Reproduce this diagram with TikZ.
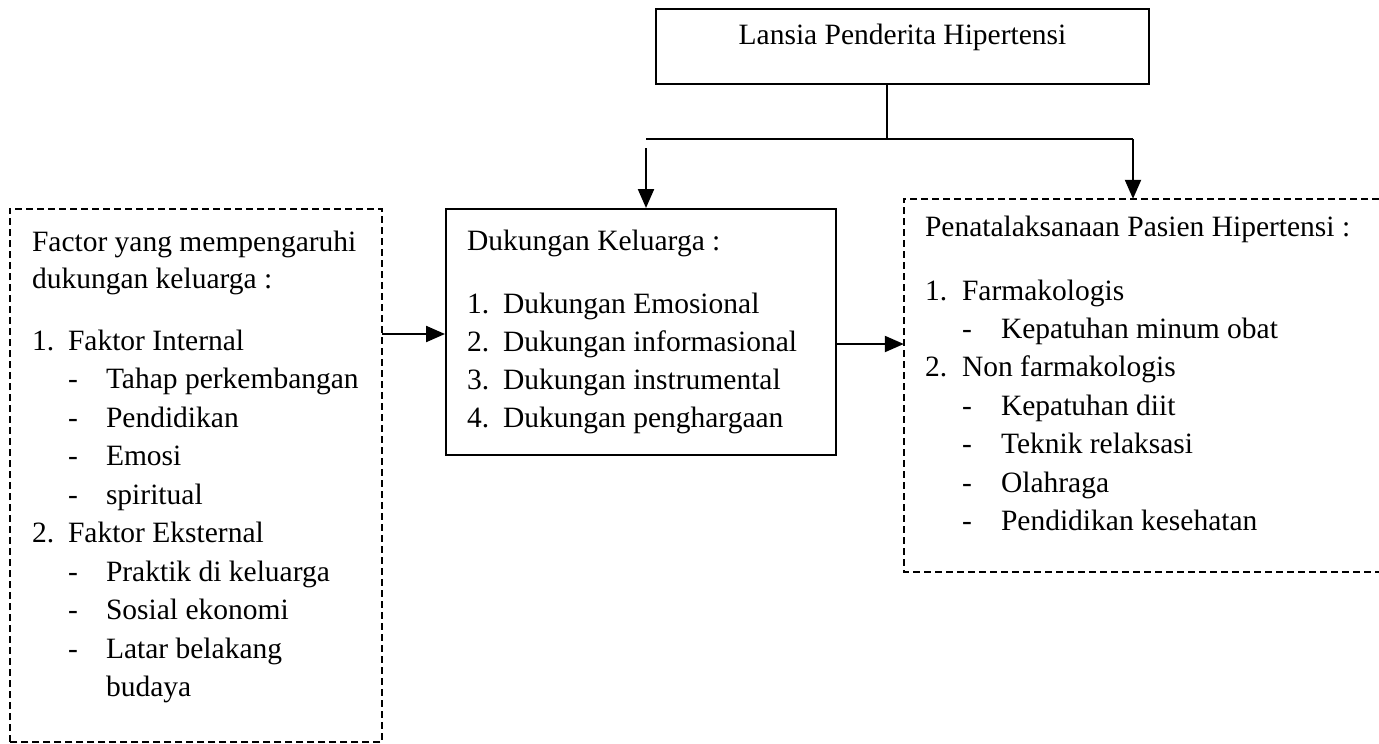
\documentclass[tikz,border=0pt]{standalone}
\usepackage{fontspec}
\setmainfont{Liberation Serif}
\usetikzlibrary{arrows.meta}
\begin{document}
\begin{tikzpicture}[x=1pt,y=-1pt,
  solidbox/.style={draw=black,line width=2pt,inner sep=0pt,fill=none},
  dashbox/.style={draw=black,line width=1.6pt,dash pattern=on 7pt off 4pt},
  conn/.style={draw=black,line width=2.2pt},
  thinconn/.style={draw=black,line width=1.2pt},
  arr/.style={draw=black,line width=2.2pt,-{Triangle[length=19pt,width=16pt]}},
  txt/.style={anchor=base west,inner sep=0pt,outer sep=0pt,font=\fontsize{29.5}{37}\selectfont},
  ctxt/.style={anchor=base,inner sep=0pt,outer sep=0pt,font=\fontsize{29.5}{37}\selectfont}]
\useasboundingbox (0,0) rectangle (1379,744);
% boxes
\node[solidbox,minimum width=493pt,minimum height=75pt] (top) at (902.5,46.5) {};
\node[solidbox,minimum width=390pt,minimum height=246pt] (mid) at (641,332) {};
\node[inner sep=0pt,minimum width=372pt,minimum height=533pt] (left) at (196,475.5) {};
\node[inner sep=0pt,minimum width=475pt,minimum height=373pt] (right) at (1141.5,385.5) {};
\draw[dashbox] (left.south west) rectangle (left.north east);
\draw[dashbox] (right.north east) -- (right.north west) -- (right.south west) -- (right.south east);
% texts
\node[ctxt] (t0) at (902.5,44) {Lansia Penderita Hipertensi};
% left
\node[txt] (l1) at (32,251) {Factor yang mempengaruhi};
\node[txt] (l2) at (32,288) {dukungan keluarga :};
\node[txt] (l3n) at (32,350) {1.};
\node[txt] (l3) at (68,350) {Faktor Internal};
\node[txt] (l4d) at (68,388.5) {-};
\node[txt] (l4) at (106,388.5) {Tahap perkembangan};
\node[txt] (l5d) at (68,427) {-};
\node[txt] (l5) at (106,427) {Pendidikan};
\node[txt] (l6d) at (68,465.5) {-};
\node[txt] (l6) at (106,465.5) {Emosi};
\node[txt] (l7d) at (68,504) {-};
\node[txt] (l7) at (106,504) {spiritual};
\node[txt] (l8n) at (32,542.5) {2.};
\node[txt] (l8) at (68,542.5) {Faktor Eksternal};
\node[txt] (l9d) at (68,581) {-};
\node[txt] (l9) at (106,581) {Praktik di keluarga};
\node[txt] (l10d) at (68,619.5) {-};
\node[txt] (l10) at (106,619.5) {Sosial ekonomi};
\node[txt] (l11d) at (68,658) {-};
\node[txt] (l11) at (106,658) {Latar belakang};
\node[txt] (l12) at (106,696.5) {budaya};
% middle
\node[txt] (m1) at (467,250) {Dukungan Keluarga :};
\node[txt] (m2n) at (467,313) {1.};
\node[txt] (m2) at (503,313) {Dukungan Emosional};
\node[txt] (m3n) at (467,351) {2.};
\node[txt] (m3) at (503,351) {Dukungan informasional};
\node[txt] (m4n) at (467,389) {3.};
\node[txt] (m4) at (503,389) {Dukungan instrumental};
\node[txt] (m5n) at (467,427) {4.};
\node[txt] (m5) at (503,427) {Dukungan penghargaan};
% right
\node[txt] (r1) at (925,236) {Penatalaksanaan Pasien Hipertensi :};
\node[txt] (r2n) at (925,300) {1.};
\node[txt] (r2) at (962,300) {Farmakologis};
\node[txt] (r3d) at (962,338) {-};
\node[txt] (r3) at (1001,338) {Kepatuhan minum obat};
\node[txt] (r4n) at (925,376.5) {2.};
\node[txt] (r4) at (962,376.5) {Non farmakologis};
\node[txt] (r5d) at (962,415) {-};
\node[txt] (r5) at (1001,415) {Kepatuhan diit};
\node[txt] (r6d) at (962,453.5) {-};
\node[txt] (r6) at (1001,453.5) {Teknik relaksasi};
\node[txt] (r7d) at (962,492) {-};
\node[txt] (r7) at (1001,492) {Olahraga};
\node[txt] (r8d) at (962,530.5) {-};
\node[txt] (r8) at (1001,530.5) {Pendidikan kesehatan};
% connectors
\coordinate (j) at (887,139);
\coordinate (jl) at (646,139);
\coordinate (jr) at (1133,139);
\coordinate (as) at (646,148);
\draw[thinconn] (top.south -| j) -- (j);
\draw[conn] (jl) -- (jr);
\draw[arr] (jr) -- (right.north -| jr);
\draw[arr] (as) -- (mid.north -| as);
\draw[arr] (left.east |- 0,334) -- (mid.west |- 0,334);
\draw[arr] (mid.east |- 0,344) -- (right.west |- 0,344);
\end{tikzpicture}
\end{document}
